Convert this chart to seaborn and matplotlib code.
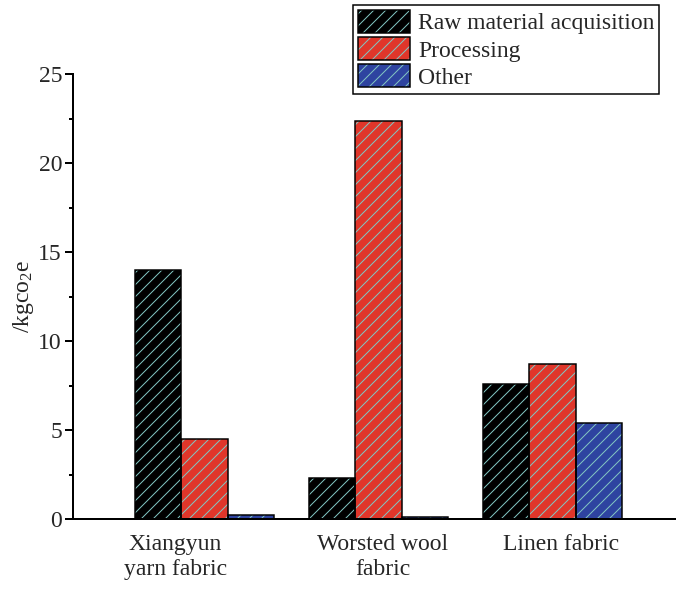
import matplotlib
matplotlib.use("Agg")
import matplotlib.pyplot as plt
import matplotlib.transforms as mtransforms
from matplotlib.patches import Rectangle, Patch
from matplotlib.legend_handler import HandlerTuple
from matplotlib.ticker import MultipleLocator
import seaborn as sns
import pandas as pd

# ---- data ----
fabrics = ["Xiangyun\nyarn fabric", "Worsted wool\nfabric", "Linen fabric"]
stages = ["Raw material acquisition", "Processing", "Other"]
raw_material = [14.0, 2.3, 7.6]
processing = [4.5, 22.35, 8.7]
other = [0.2, 0.1, 5.4]
y_ticks = [0, 5, 10, 15, 20, 25]

bar_colors = ["#000000", "#e0362a", "#2e43a0"]
hatch_color = "#82c6c2"

rows = []
for stage, vals in zip(stages, [raw_material, processing, other]):
    for f, v in zip(fabrics, vals):
        rows.append({"fabric": f, "stage": stage, "value": v})
df = pd.DataFrame(rows)

sns.set_theme(style="ticks")
FS = 23.6
plt.rcParams["font.family"] = ["Liberation Serif", "DejaVu Serif"]
plt.rcParams["mathtext.fontset"] = "custom"
plt.rcParams["mathtext.rm"] = "Liberation Serif"
plt.rcParams["mathtext.it"] = "Liberation Serif:italic"
plt.rcParams["hatch.linewidth"] = 1.0

DPI = 72
fig = plt.figure(figsize=(676 / DPI, 591 / DPI), dpi=DPI)
ax = fig.add_axes([73 / 676, (591 - 519) / 591, (676 - 73) / 676, (519 - 74) / 591])

sns.barplot(data=df, x="fabric", y="value", hue="stage", hue_order=stages,
            order=fabrics, palette=bar_colors, saturation=1, ax=ax,
            linewidth=0, edgecolor=hatch_color, legend=False, errorbar=None)

HATCH = "//"
for cont in ax.containers:
    for p in cont.patches:
        p.set_hatch(HATCH)
        p.set_edgecolor(hatch_color)
        p.set_linewidth(0)
        outline = Rectangle(p.get_xy(), p.get_width(), p.get_height(),
                            fill=False, edgecolor="black", linewidth=1.5, zorder=p.get_zorder() + 0.1)
        ax.add_patch(outline)

ax.set_xlim(-0.756, 2.71)
ax.set_ylim(0, 25)
ax.set_yticks(y_ticks)
ax.yaxis.set_minor_locator(MultipleLocator(2.5))
ax.tick_params(axis="y", which="major", direction="out", length=8, width=2, labelsize=FS, pad=3, color="black")
ax.tick_params(axis="y", which="minor", direction="out", length=4, width=2, color="black")
ax.tick_params(axis="x", which="both", length=0, labelsize=FS, pad=15)
offsets = [-29, 4, 9]
for lab, dx in zip(ax.get_xticklabels(), offsets):
    lab.set_linespacing(1.27)
    lab.set_transform(lab.get_transform() + mtransforms.ScaledTranslation(dx / DPI, 0, fig.dpi_scale_trans))

for s in ["top", "right"]:
    ax.spines[s].set_visible(False)
for s in ["left", "bottom"]:
    ax.spines[s].set_linewidth(2)
    ax.spines[s].set_color("black")

ax.set_xlabel("")
ax.set_ylabel(r"/kgco$_\mathregular{2}$e", fontsize=FS, labelpad=2)

handles = []
for c in bar_colors:
    hp = Patch(facecolor=c, edgecolor=hatch_color, hatch=HATCH, linewidth=0)
    op = Patch(facecolor="none", edgecolor="black", linewidth=1.5)
    handles.append((hp, op))
leg = fig.legend(handles, stages, handler_map={tuple: HandlerTuple(ndivide=1, pad=0)},
                 loc="upper right", bbox_to_anchor=(659 / 676, 1 - 5 / 591),
                 bbox_transform=fig.transFigure, fontsize=FS, frameon=True,
                 fancybox=False, framealpha=1, edgecolor="black",
                 handlelength=2.2, handleheight=1.12, labelspacing=0.12,
                 borderpad=0.2, borderaxespad=0, handletextpad=0.35)
leg.get_frame().set_linewidth(1.5)

fig.savefig("out.png", dpi=DPI)
